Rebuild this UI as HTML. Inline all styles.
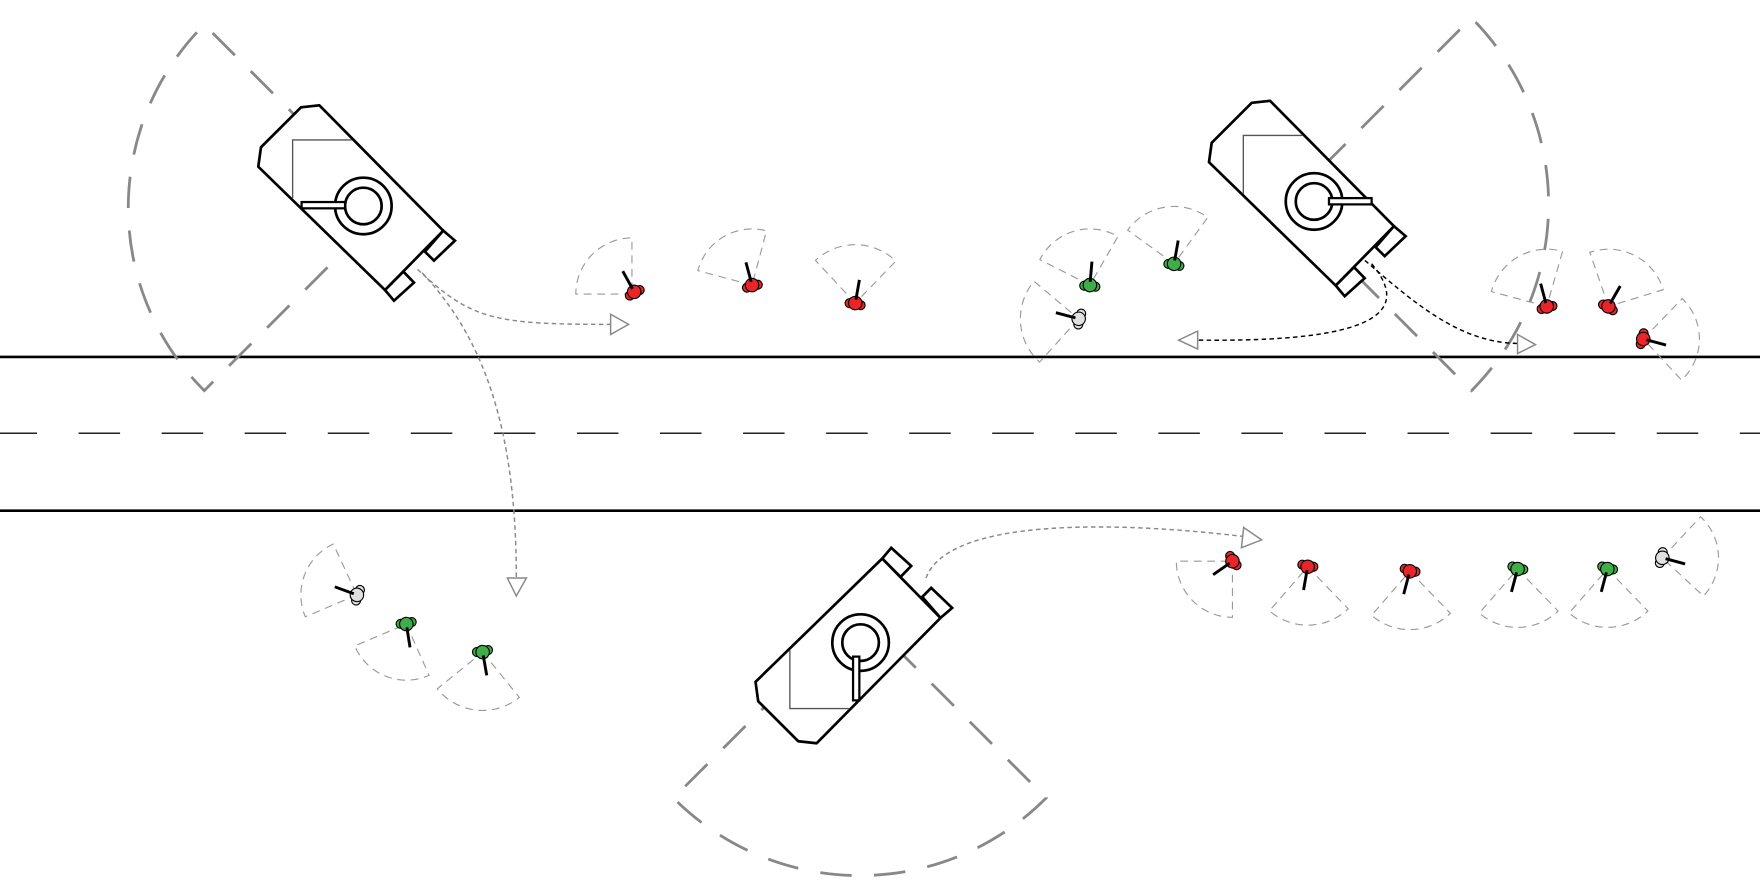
<!DOCTYPE html>
<html><head><meta charset="utf-8"><style>html,body{margin:0;padding:0;background:#fff}svg{display:block}</style></head>
<body>
<svg width="1760" height="894" viewBox="0 0 1568 796.5" preserveAspectRatio="none" xmlns="http://www.w3.org/2000/svg">
<defs>
<g id="hull">
<polygon points="232.5,131.2 268.2,95.6 284.5,93.8 394.9,205.5 343,258.4 230.1,148.5" fill="#fff" stroke="#000" stroke-width="2.4" stroke-linejoin="round"/>
<polygon points="394.9,205.5 405.3,214.4 386.6,232.2 378.6,224.2" fill="#fff" stroke="#000" stroke-width="2.4"/>
<polygon points="359.3,242 368.8,251.8 351,267.9 343,258.4" fill="#fff" stroke="#000" stroke-width="2.4"/>
<polyline points="313.3,124.7 260.7,124.7 260.7,176.7" fill="none" stroke="#555" stroke-width="1.2"/>
<circle cx="323.7" cy="183.5" r="25.2" fill="#fff" stroke="#000" stroke-width="2.4"/>
<circle cx="323.7" cy="183.5" r="16.3" fill="#fff" stroke="#000" stroke-width="2.4"/>
</g>
<g id="sold">
<circle cx="-1" cy="-5" r="4" stroke="#000" stroke-width="1"/>
<circle cx="-1" cy="5" r="4" stroke="#000" stroke-width="1"/>
<circle cx="0" cy="0" r="6" stroke="#000" stroke-width="1"/>
<line x1="3" y1="0" x2="21" y2="0" stroke="#000" stroke-width="2.6"/>
</g>
</defs>

<line x1="0" y1="318" x2="1568" y2="318" stroke="#000" stroke-width="2.4"/>
<line x1="0" y1="455" x2="1568" y2="455" stroke="#000" stroke-width="2.4"/>
<line x1="-4" y1="386" x2="1568" y2="386" stroke="#222" stroke-width="1.4" stroke-dasharray="37,37"/>

<g fill="none" stroke="#888" stroke-width="2.5" stroke-dasharray="28,20">
<path d="M345,185 L182,22 A230,230 0 0 0 182,348 Z"/>
<path d="M1145,182 L1311,16 A235,235 0 0 1 1311,348 Z"/>
<path d="M766,545 L600,711 A234,234 0 0 0 932,711 Z"/>
</g>

<g fill="none" stroke="#999" stroke-width="1" stroke-dasharray="7,5">
<path d="M563,262 L513,262 A50,50 0 0 1 563,212 Z"/>
<path d="M670,254 L621.7,241.1 A50,50 0 0 1 682.9,205.7 Z"/>
<path d="M762,270 L726.5,232 A52,52 0 0 1 798.1,232.6 Z"/>
<path d="M971,254 L926.4,231.3 A50,50 0 0 1 996,210.7 Z"/>
<path d="M961,284 L926.2,322.6 A52,52 0 0 1 921.2,250.6 Z"/>
<path d="M1046,235 L1004.7,205 A51,51 0 0 1 1076,193.7 Z"/>
<path d="M1378,273 L1328.7,259.8 A51,51 0 0 1 1392.1,224 Z"/>
<path d="M1433,273 L1416.4,224.8 A51,51 0 0 1 1481.8,258.1 Z"/>
<path d="M1464,302 L1498.7,266 A50,50 0 0 1 1498.1,338.6 Z"/>
<path d="M318,530 L272,549.5 A50,50 0 0 1 296.9,484.7 Z"/>
<path d="M362,556 L382.3,601.7 A50,50 0 0 1 316,575.5 Z"/>
<path d="M430,581 L462.7,621.4 A52,52 0 0 1 389.6,613.7 Z"/>
<path d="M1098,500 L1098,550 A50,50 0 0 1 1048,500 Z"/>
<path d="M1165,505 L1201.1,542.4 A52,52 0 0 1 1130.9,544.2 Z"/>
<path d="M1256,509 L1292.1,546.4 A52,52 0 0 1 1221.9,548.2 Z"/>
<path d="M1352,507 L1388.1,544.4 A52,52 0 0 1 1317.9,546.2 Z"/>
<path d="M1432,507 L1468.1,544.4 A52,52 0 0 1 1397.9,546.2 Z"/>
<path d="M1481,497 L1515.1,460.4 A50,50 0 0 1 1517.6,531.1 Z"/>
</g>

<g fill="none" stroke="#888" stroke-width="1.3" stroke-dasharray="4,3">
<path d="M372,240 C420,285 440,289 544,289"/>
<path d="M376,243 C430,300 460,380 460,515"/>
<path d="M825,515 C845,460 1000,465 1108,478"/>
</g>
<g fill="none" stroke="#000" stroke-width="1.3" stroke-dasharray="4,3">
<path d="M1222,235 C1260,280 1220,305 1068,303"/>
<path d="M1216,232 C1260,270 1300,305 1352,306"/>
</g>
<g fill="#fff" stroke="#888" stroke-width="1.3">
<polygon points="544,280 560,289 544,298"/>
<polygon points="452,515 469,515 460,531"/>
<polygon points="1108,470 1124,481 1106,488"/>
<polygon points="1067,295 1050,303 1067,311"/>
<polygon points="1352,298 1368,307 1352,315"/>
</g>

<use href="#hull"/>
<rect x="268.7" y="180" width="38.7" height="5.6" fill="#fff" stroke="#000" stroke-width="2"/>
<use href="#hull" transform="translate(847,-4)"/>
<rect x="1184" y="176.5" width="38" height="5.6" fill="#fff" stroke="#000" stroke-width="2"/>
<use href="#hull" transform="translate(443,756) scale(1,-1)"/>
<rect x="760" y="585" width="5.6" height="39" fill="#fff" stroke="#000" stroke-width="2"/>

<use href="#sold" fill="#e8262a" transform="translate(565,260) rotate(-119)"/>
<use href="#sold" fill="#e8262a" transform="translate(670,254) rotate(-105)"/>
<use href="#sold" fill="#e8262a" transform="translate(762,270) rotate(-80)"/>
<use href="#sold" fill="#3fae49" transform="translate(971,254) rotate(-85)"/>
<use href="#sold" fill="#e0e0e0" transform="translate(961,284) rotate(195)"/>
<use href="#sold" fill="#3fae49" transform="translate(1046,235) rotate(-80)"/>
<use href="#sold" fill="#e8262a" transform="translate(1378,273) rotate(-105)"/>
<use href="#sold" fill="#e8262a" transform="translate(1433,273) rotate(-60)"/>
<use href="#sold" fill="#e8262a" transform="translate(1464,302) rotate(15)"/>
<use href="#sold" fill="#e0e0e0" transform="translate(318,530) rotate(200)"/>
<use href="#sold" fill="#3fae49" transform="translate(362,556) rotate(81)"/>
<use href="#sold" fill="#3fae49" transform="translate(430,581) rotate(80)"/>
<use href="#sold" fill="#e8262a" transform="translate(1098,500) rotate(145)"/>
<use href="#sold" fill="#e8262a" transform="translate(1165,505) rotate(100)"/>
<use href="#sold" fill="#e8262a" transform="translate(1256,509) rotate(105)"/>
<use href="#sold" fill="#3fae49" transform="translate(1352,507) rotate(105)"/>
<use href="#sold" fill="#3fae49" transform="translate(1432,507) rotate(105)"/>
<use href="#sold" fill="#e0e0e0" transform="translate(1481,497) rotate(15)"/>
</svg>
</body></html>
